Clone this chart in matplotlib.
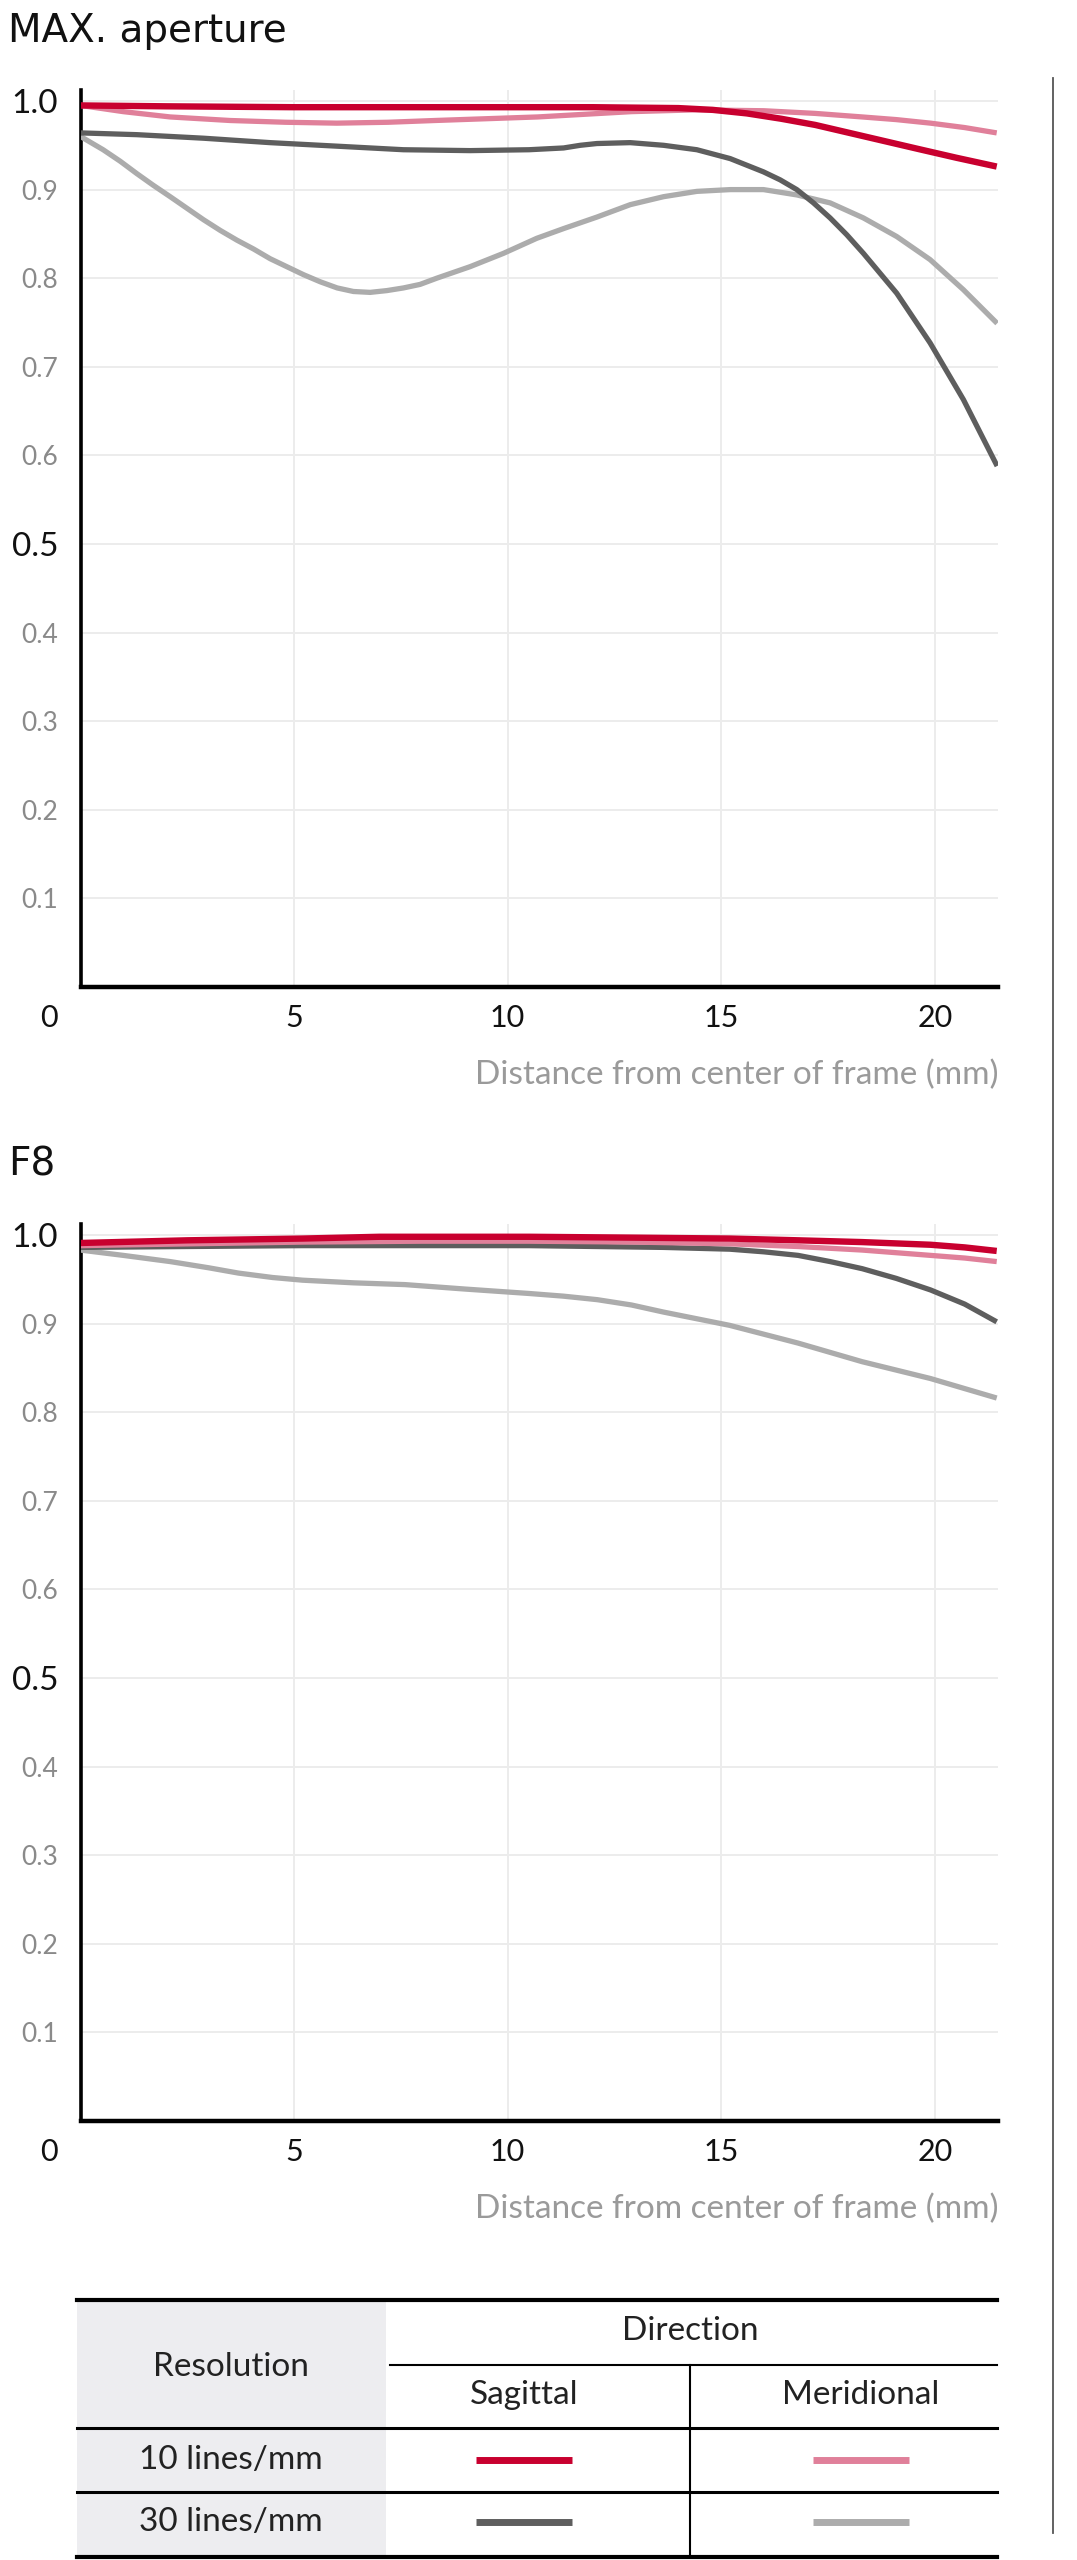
import matplotlib
matplotlib.use("Agg")
import matplotlib.pyplot as plt
from matplotlib.patches import Rectangle

plt.rcParams['font.family'] = ['Lato', 'DejaVu Sans']

# ---------------- data ----------------
# MAX. aperture
max_s10_x = [0, 2, 5, 8, 10, 12, 14.0, 14.8, 15.6, 16.4, 17.2, 18.0, 18.8, 19.6, 20.5, 21.45]
max_s10_y = [0.995, 0.994, 0.993, 0.993, 0.993, 0.993, 0.992, 0.990, 0.986, 0.980, 0.973, 0.964, 0.955, 0.946, 0.936, 0.926]

max_m10_x = [0, 1.0, 2.1, 3.5, 4.8, 6.0, 7.2, 8.3, 9.5, 10.7, 11.8, 12.9, 14.4, 16.0, 17.2, 18.3, 19.1, 19.9, 20.7, 21.45]
max_m10_y = [0.995, 0.988, 0.982, 0.978, 0.976, 0.975, 0.976, 0.978, 0.980, 0.982, 0.985, 0.988, 0.990, 0.989, 0.986, 0.982, 0.979, 0.975, 0.970, 0.964]

max_s30_x = [0, 1.32, 2.88, 4.44, 6.01, 7.56, 9.12, 10.5, 11.31, 11.7, 12.09, 12.87, 13.65, 14.43, 15.21, 15.99, 16.38, 16.77,
             17.16, 17.55, 17.94, 18.33, 19.11, 19.89, 20.67, 21.46]
max_s30_y = [0.964, 0.962, 0.958, 0.953, 0.949, 0.945, 0.944, 0.945, 0.947, 0.950, 0.952, 0.953, 0.950, 0.945, 0.935, 0.920, 0.911, 0.900,
             0.885, 0.868, 0.849, 0.828, 0.783, 0.727, 0.663, 0.588]

max_m30_x = [0, 0.53, 0.93, 1.32, 1.70, 2.10, 2.49, 2.88, 3.27, 3.66, 4.05, 4.44, 4.83, 5.22, 5.61, 6.01, 6.39, 6.78, 7.17,
             7.56, 7.95, 8.34, 9.12, 9.90, 10.68, 11.31, 12.09, 12.87, 13.65, 14.43, 15.21, 15.99, 16.77, 17.55, 18.33,
             19.11, 19.89, 20.67, 21.46]
max_m30_y = [0.960, 0.945, 0.932, 0.918, 0.905, 0.892, 0.879, 0.866, 0.854, 0.843, 0.833, 0.822, 0.813, 0.804, 0.796, 0.789,
             0.785, 0.784, 0.786, 0.789, 0.793, 0.800, 0.813, 0.828, 0.845, 0.856, 0.869, 0.883, 0.892, 0.898, 0.900, 0.900,
             0.894, 0.885, 0.868, 0.847, 0.821, 0.787, 0.749]

# F8
f8_s10_x = [0, 2.5, 5.2, 7.0, 10.5, 13.0, 15.2, 16.8, 18.3, 19.9, 20.7, 21.45]
f8_s10_y = [0.991, 0.994, 0.996, 0.998, 0.998, 0.997, 0.996, 0.994, 0.992, 0.989, 0.986, 0.982]

f8_m10_x = [0, 2.5, 5.2, 8.0, 10.5, 13.0, 15.2, 16.8, 18.3, 19.9, 20.7, 21.45]
f8_m10_y = [0.988, 0.990, 0.992, 0.993, 0.993, 0.992, 0.990, 0.987, 0.983, 0.977, 0.974, 0.970]

f8_s30_x = [0, 2.5, 5.2, 8.0, 10.5, 13.65, 15.2, 16.0, 16.8, 17.55, 18.3, 19.1, 19.9, 20.7, 21.45]
f8_s30_y = [0.986, 0.987, 0.988, 0.988, 0.988, 0.986, 0.984, 0.981, 0.977, 0.970, 0.962, 0.951, 0.938, 0.922, 0.902]

f8_m30_x = [0, 1.0, 2.1, 3.0, 3.7, 4.5, 5.2, 6.4, 7.6, 9.0, 10.5, 11.3, 12.1, 12.9, 13.65, 15.2, 16.8, 18.3, 19.9, 21.45]
f8_m30_y = [0.983, 0.977, 0.970, 0.963, 0.957, 0.952, 0.949, 0.946, 0.944, 0.939, 0.934, 0.931, 0.927, 0.921, 0.913, 0.898, 0.878, 0.857, 0.838, 0.816]

x_ticks = [5, 10, 15, 20]
y_ticks = [0.1, 0.2, 0.3, 0.4, 0.5, 0.6, 0.7, 0.8, 0.9, 1.0]
y_labels = ['0.1', '0.2', '0.3', '0.4', '0.5', '0.6', '0.7', '0.8', '0.9', '1.0']
chart_titles = ['MAX. aperture', 'F8']
x_label = 'Distance from center of frame (mm)'

table_rows = ['10 lines/mm', '30 lines/mm']
table_cols = ['Sagittal', 'Meridional']

# ---------------- styles ----------------
C_S10 = '#c8002f'
C_M10 = '#e0809a'
C_S30 = '#5e5e5e'
C_M30 = '#acacac'
GRID = '#ececec'

W, H = 1077, 2560
fig = plt.figure(figsize=(W / 100, H / 100), dpi=100)

def px_axes(left, y0, right, ytop):
    return [left / W, (H - y0) / H, (right - left) / W, (y0 - ytop) / H]

series_sets = [
    [(max_m30_x, max_m30_y, C_M30, 3.8), (max_s30_x, max_s30_y, C_S30, 3.8),
     (max_m10_x, max_m10_y, C_M10, 3.8), (max_s10_x, max_s10_y, C_S10, 4.6)],
    [(f8_m30_x, f8_m30_y, C_M30, 3.8), (f8_s30_x, f8_s30_y, C_S30, 3.8),
     (f8_m10_x, f8_m10_y, C_M10, 3.8), (f8_s10_x, f8_s10_y, C_S10, 4.6)],
]

offsets = [0, 1134]
for k, off in enumerate(offsets):
    y0 = 987 + off
    ymax = 1.012
    ytop = y0 - 886 * ymax
    ax = fig.add_axes(px_axes(80.5, y0, 998, ytop))
    ax.set_xlim(0, 21.48)
    ax.set_ylim(0, ymax)
    for x, y, c, lw in series_sets[k]:
        ax.plot(x, y, color=c, lw=lw, solid_capstyle='butt', solid_joinstyle='round', zorder=3)
    ax.set_xticks(x_ticks)
    ax.set_yticks(y_ticks)
    ax.set_yticklabels(y_labels)
    ax.grid(True, color=GRID, lw=1.4, zorder=0)
    for s in ['top', 'right']:
        ax.spines[s].set_visible(False)
    ax.spines['left'].set_linewidth(2.6)
    ax.spines['bottom'].set_linewidth(3.2)
    ax.spines['left'].set_color('black')
    ax.spines['bottom'].set_color('black')
    ax.tick_params(axis='x', length=0, pad=12, labelsize=22, labelcolor='#111111')
    ax.tick_params(axis='y', length=0, pad=16, labelsize=19, labelcolor='#8a8a8a')
    for lab, v in zip(ax.get_yticklabels(), y_ticks):
        if abs(v - 1.0) < 1e-6 or abs(v - 0.5) < 1e-6:
            lab.set_fontsize(24)
            lab.set_color('#111111')
    ax.annotate('0', xy=(0, 0), xycoords='data', xytext=(-32, -31),
                textcoords='offset pixels', ha='center', va='center',
                fontsize=22, color='#111111')
    ax.annotate(x_label, xy=(1, 0), xycoords='axes fraction', xytext=(0, -88),
                textcoords='offset pixels', ha='right', va='center',
                fontsize=24, color='#9a9a9a')
    fig.text(8 / W, 1 - (31 + off) / H, chart_titles[k], ha='left', va='center',
             fontsize=28, color='#111111', family=['DejaVu Sans'])

# ---------------- overlay axes (pixel coords) ----------------
ov = fig.add_axes([0, 0, 1, 1])
ov.set_xlim(0, W)
ov.set_ylim(H, 0)
ov.axis('off')

# right border line
ov.plot([1053, 1053], [78, 2533], color='#555555', lw=1.3)

# table
TL, TR = 77, 997
grey = '#ededf0'
ov.add_patch(Rectangle((TL, 2301), 309, 126, color=grey, lw=0))
ov.add_patch(Rectangle((TL, 2430), 309, 61, color=grey, lw=0))
ov.add_patch(Rectangle((TL, 2494), 309, 61, color=grey, lw=0))
ov.plot([TL, TR], [2300, 2300], color='black', lw=3.0)
ov.plot([390, TR], [2365, 2365], color='black', lw=1.5)
ov.plot([690, 690], [2365, 2557], color='black', lw=1.5)
ov.plot([TL, TR], [2428, 2428], color='black', lw=2.2)
ov.plot([TL, TR], [2492, 2492], color='black', lw=2.2)
ov.plot([TL, TR], [2557, 2557], color='black', lw=3.0)

tfs = 24
ov.text(690, 2331, 'Direction', ha='center', va='center', fontsize=tfs, color='#222222')
ov.text(231, 2367, 'Resolution', ha='center', va='center', fontsize=tfs, color='#222222')
col_x = [524, 861]
for cx, name in zip(col_x, table_cols):
    ov.text(cx, 2395, name, ha='center', va='center', fontsize=tfs, color='#222222')
row_y = [2460, 2522]
row_colors = [[C_S10, C_M10], [C_S30, C_M30]]
for ry, name, cols in zip(row_y, table_rows, row_colors):
    ov.text(231, ry, name, ha='center', va='center', fontsize=tfs, color='#222222')
    for cx, c in zip(col_x, cols):
        ov.plot([cx - 48, cx + 48], [ry, ry], color=c, lw=5, solid_capstyle='butt')

fig.savefig('out.png', dpi=100)
